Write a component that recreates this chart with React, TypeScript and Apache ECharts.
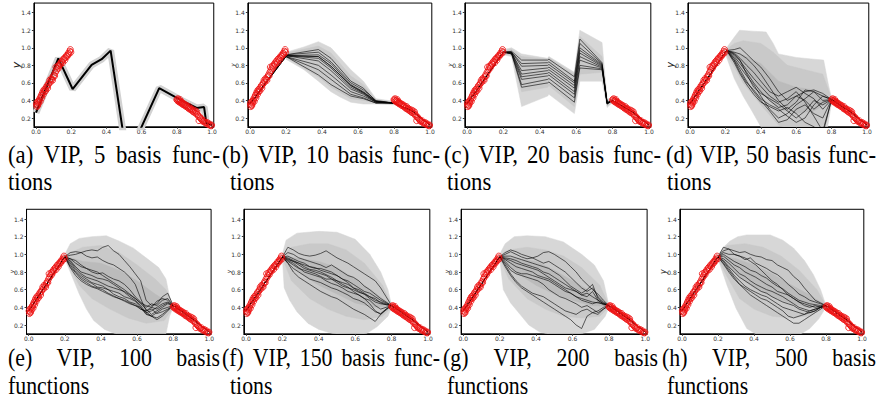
import React, { useEffect, useRef } from 'react';
import * as echarts from 'echarts';

type P = [number, number];

const X_TICKS = [0, 0.2, 0.4, 0.6, 0.8, 1.0];
const Y_TICKS = [0.2, 0.4, 0.6, 0.8, 1.0, 1.2, 1.4];

// training observations (shared by all panels)
const OBS_LEFT: P[] = [[0.002,0.36],[0.004,0.33],[0.006,0.38],[0.008,0.35],[0.010,0.34],[0.012,0.39],[0.015,0.37],[0.018,0.40],[0.021,0.42],[0.024,0.39],[0.027,0.44],[0.030,0.46],[0.033,0.43],[0.036,0.48],[0.039,0.50],[0.042,0.47],[0.045,0.52],[0.048,0.50],[0.051,0.53],[0.055,0.51],[0.059,0.55],[0.063,0.57],[0.066,0.54],[0.070,0.58],[0.074,0.60],[0.078,0.63],[0.082,0.61],[0.086,0.65],[0.090,0.64],[0.094,0.63],[0.098,0.67],[0.102,0.69],[0.106,0.68],[0.110,0.72],[0.113,0.78],[0.116,0.74],[0.120,0.76],[0.124,0.79],[0.128,0.77],[0.132,0.80],[0.136,0.82],[0.140,0.81],[0.144,0.84],[0.148,0.85],[0.152,0.83],[0.156,0.87],[0.160,0.88],[0.164,0.86],[0.168,0.89],[0.172,0.91],[0.176,0.90],[0.180,0.92],[0.184,0.94],[0.188,0.93],[0.192,0.96],[0.195,0.98],[0.198,0.95]];
const OBS_RIGHT: P[] = [[0.800,0.41],[0.803,0.40],[0.806,0.42],[0.809,0.39],[0.812,0.40],[0.815,0.38],[0.818,0.41],[0.821,0.39],[0.824,0.37],[0.827,0.38],[0.830,0.36],[0.834,0.37],[0.838,0.35],[0.842,0.36],[0.846,0.34],[0.850,0.35],[0.854,0.33],[0.858,0.34],[0.862,0.32],[0.866,0.31],[0.870,0.33],[0.874,0.30],[0.878,0.31],[0.882,0.29],[0.886,0.30],[0.890,0.28],[0.894,0.27],[0.898,0.29],[0.902,0.26],[0.906,0.28],[0.910,0.25],[0.914,0.27],[0.918,0.24],[0.922,0.22],[0.926,0.17],[0.930,0.21],[0.934,0.20],[0.938,0.19],[0.942,0.18],[0.946,0.17],[0.950,0.16],[0.955,0.17],[0.960,0.15],[0.965,0.14],[0.970,0.15],[0.975,0.13],[0.980,0.14],[0.985,0.12],[0.990,0.12],[0.995,0.11],[0.998,0.12]];

const SAMPLE_HEAD: P[] = [[0, 0.36]];
const SAMPLE_TAIL: P[] = [[0.9, 0.28], [1.0, 0.12]];

// (a) 5 basis functions
const A_LINE: P[] = [[0,0.26],[0.127,0.88],[0.208,0.53],[0.316,0.806],[0.373,0.87],[0.424,0.968],[0.505,-0.1],[0.55,-0.12],[0.7,0.54],[0.818,0.41],[0.913,0.314],[0.955,0.325],[0.968,0.14],[1.0,0.12]];

// (b) 10 basis functions
const B_X = [0.2, 0.38, 0.45, 0.56, 0.63, 0.7, 0.8];
const B_LINES = [
  [0.92,0.98,0.88,0.62,0.54,0.39,0.37],
  [0.92,0.95,0.84,0.60,0.52,0.40,0.37],
  [0.91,0.92,0.82,0.58,0.50,0.39,0.37],
  [0.91,0.90,0.79,0.57,0.49,0.39,0.37],
  [0.91,0.90,0.79,0.57,0.49,0.39,0.37],
  [0.91,0.88,0.77,0.55,0.48,0.38,0.37],
  [0.91,0.85,0.74,0.53,0.47,0.38,0.37],
  [0.90,0.80,0.69,0.50,0.45,0.38,0.37],
  [0.90,0.75,0.64,0.47,0.43,0.37,0.37],
  [0.90,0.69,0.58,0.45,0.42,0.37,0.37],
];
const B_OUTER_UP: P[] = [[0.2,0.95],[0.3,1.01],[0.38,1.07],[0.45,1.0],[0.56,0.75],[0.63,0.62],[0.7,0.42],[0.8,0.39]];
const B_OUTER_LO: P[] = [[0.2,0.87],[0.3,0.75],[0.38,0.62],[0.45,0.5],[0.5,0.44],[0.56,0.38],[0.63,0.36],[0.7,0.36],[0.8,0.35]];
const B_INNER_UP: P[] = [[0.2,0.94],[0.38,1.02],[0.45,0.94],[0.56,0.68],[0.63,0.58],[0.7,0.41],[0.8,0.38]];
const B_INNER_LO: P[] = [[0.2,0.89],[0.38,0.67],[0.45,0.55],[0.56,0.42],[0.63,0.4],[0.7,0.37],[0.8,0.36]];

// (c) 20 basis functions
const C_X = [0.2, 0.245, 0.3, 0.443, 0.45, 0.59, 0.62, 0.742, 0.77, 0.8];
const C_LINES = [
  [0.95,0.96,0.86,0.86,0.87,0.67,1.10,0.83,0.38,0.40],
  [0.95,0.95,0.82,0.83,0.84,0.62,1.05,0.82,0.37,0.40],
  [0.95,0.95,0.79,0.80,0.81,0.60,1.00,0.81,0.37,0.40],
  [0.95,0.94,0.74,0.77,0.78,0.57,0.97,0.80,0.36,0.40],
  [0.95,0.95,0.70,0.74,0.75,0.54,0.94,0.79,0.37,0.40],
  [0.95,0.94,0.67,0.71,0.72,0.50,0.90,0.78,0.36,0.40],
  [0.95,0.93,0.64,0.68,0.69,0.47,0.86,0.77,0.37,0.40],
  [0.95,0.94,0.58,0.64,0.65,0.43,0.80,0.76,0.36,0.40],
  [0.95,0.93,0.55,0.60,0.61,0.38,0.77,0.75,0.37,0.40],
];
const C_OUTER_UP: P[] = [[0.2,0.98],[0.245,1.0],[0.3,0.93],[0.443,0.88],[0.45,0.9],[0.59,0.72],[0.62,1.2],[0.742,1.06],[0.77,0.42],[0.8,0.42]];
const C_OUTER_LO: P[] = [[0.2,0.92],[0.245,0.9],[0.3,0.33],[0.443,0.45],[0.45,0.47],[0.59,0.25],[0.62,0.62],[0.742,0.62],[0.77,0.32],[0.8,0.38]];
const C_INNER_UP: P[] = [[0.2,0.97],[0.245,0.98],[0.3,0.9],[0.443,0.87],[0.45,0.89],[0.59,0.7],[0.62,1.13],[0.742,0.9],[0.77,0.4],[0.8,0.41]];
const C_INNER_LO: P[] = [[0.2,0.93],[0.245,0.92],[0.3,0.5],[0.443,0.55],[0.45,0.57],[0.59,0.33],[0.62,0.7],[0.742,0.72],[0.77,0.34],[0.8,0.39]];

// (d) 50 basis functions
const D_X = [0.207,0.25,0.283,0.32,0.36,0.4,0.45,0.5,0.55,0.6,0.65,0.7,0.75,0.8];
const D_LINES = [
  [0.97,0.98,1.00,0.93,0.85,0.78,0.65,0.50,0.40,0.45,0.50,0.52,0.48,0.41],
  [0.97,0.95,0.93,0.88,0.80,0.70,0.55,0.40,0.30,0.38,0.52,0.50,0.45,0.41],
  [0.97,0.90,0.82,0.72,0.60,0.50,0.40,0.32,0.35,0.45,0.40,0.30,0.38,0.41],
  [0.97,0.88,0.78,0.68,0.58,0.45,0.30,0.20,0.25,0.35,0.42,0.50,0.40,0.41],
  [0.97,0.86,0.75,0.62,0.50,0.40,0.28,0.15,0.18,0.30,0.35,0.25,0.20,0.41],
  [0.97,0.92,0.85,0.75,0.65,0.56,0.45,0.38,0.42,0.50,0.38,0.22,0.05,0.41],
  [0.97,0.85,0.72,0.60,0.52,0.42,0.35,0.30,0.22,0.15,0.20,0.35,0.45,0.41],
  [0.97,0.94,0.88,0.80,0.72,0.62,0.50,0.45,0.50,0.55,0.48,0.42,0.30,0.41],
  [0.97,0.83,0.70,0.58,0.47,0.38,0.33,0.28,0.32,0.25,0.15,0.10,0.02,0.41],
  [0.97,0.93,0.86,0.70,0.55,0.48,0.42,0.36,0.28,0.20,0.28,0.40,0.35,0.41],
];
const D_OUTER_UP: P[] = [[0.2,0.98],[0.25,1.12],[0.28,1.2],[0.35,1.19],[0.43,1.18],[0.47,1.05],[0.5,0.93],[0.6,0.89],[0.7,0.87],[0.755,0.86],[0.78,0.6],[0.8,0.42]];
const D_OUTER_LO: P[] = [[0.2,0.93],[0.25,0.65],[0.3,0.45],[0.35,0.28],[0.4,0.1],[0.5,-0.2],[0.7,-0.2],[0.77,0.0],[0.8,0.38]];
const D_MID_UP: P[] = [[0.2,0.97],[0.25,1.05],[0.3,1.08],[0.4,1.05],[0.47,0.95],[0.55,0.8],[0.65,0.75],[0.75,0.7],[0.8,0.42]];
const D_MID_LO: P[] = [[0.2,0.94],[0.25,0.78],[0.3,0.6],[0.4,0.35],[0.5,0.12],[0.6,0.05],[0.7,0.05],[0.77,0.15],[0.8,0.39]];
const D_INNER_UP: P[] = [[0.2,0.96],[0.3,0.92],[0.4,0.82],[0.5,0.62],[0.6,0.55],[0.7,0.52],[0.8,0.41]];
const D_INNER_LO: P[] = [[0.2,0.95],[0.3,0.75],[0.4,0.5],[0.5,0.3],[0.6,0.25],[0.7,0.28],[0.8,0.40]];

// shared x grid for (e)-(h)
const W_X = [0.2,0.23,0.26,0.29,0.32,0.35,0.38,0.41,0.44,0.47,0.5,0.53,0.56,0.59,0.62,0.65,0.68,0.71,0.74,0.77,0.8];

// (e) 100 basis functions
const E_LINES = [
  [0.97,1.02,1.03,1.02,1.04,1.05,1.04,1.08,1.10,1.04,1.00,0.93,0.86,0.78,0.70,0.48,0.42,0.44,0.52,0.56,0.42],
  [0.97,0.99,1.00,1.02,0.98,0.96,0.97,0.93,0.90,0.88,0.84,0.80,0.74,0.66,0.50,0.36,0.40,0.47,0.50,0.48,0.42],
  [0.97,0.95,0.90,0.86,0.84,0.80,0.78,0.79,0.75,0.72,0.70,0.66,0.60,0.52,0.46,0.40,0.44,0.42,0.48,0.50,0.42],
  [0.97,0.93,0.86,0.80,0.78,0.76,0.73,0.72,0.70,0.66,0.62,0.57,0.52,0.48,0.42,0.34,0.36,0.40,0.44,0.46,0.42],
  [0.97,0.92,0.84,0.78,0.74,0.72,0.70,0.67,0.64,0.62,0.60,0.58,0.54,0.50,0.44,0.38,0.32,0.36,0.40,0.44,0.42],
  [0.97,0.90,0.82,0.76,0.72,0.68,0.66,0.64,0.60,0.58,0.56,0.52,0.50,0.47,0.40,0.33,0.30,0.34,0.38,0.40,0.42],
  [0.97,0.88,0.80,0.74,0.70,0.67,0.63,0.62,0.60,0.55,0.52,0.50,0.46,0.44,0.38,0.36,0.38,0.33,0.35,0.38,0.42],
  [0.97,0.86,0.79,0.72,0.68,0.64,0.62,0.60,0.56,0.53,0.50,0.47,0.44,0.42,0.40,0.32,0.30,0.28,0.32,0.37,0.42],
  [0.97,0.85,0.76,0.70,0.66,0.63,0.61,0.58,0.55,0.52,0.50,0.48,0.45,0.42,0.38,0.35,0.30,0.26,0.30,0.36,0.42],
  [0.97,0.95,0.93,0.88,0.84,0.82,0.80,0.76,0.72,0.68,0.64,0.60,0.55,0.50,0.45,0.42,0.40,0.38,0.42,0.45,0.42],
];
const E_OUTER_UP: P[] = [[0.2,1.0],[0.23,1.12],[0.28,1.18],[0.35,1.2],[0.43,1.21],[0.5,1.15],[0.58,1.07],[0.65,0.96],[0.72,0.85],[0.76,0.72],[0.78,0.52],[0.8,0.42]];
const E_OUTER_LO: P[] = [[0.2,0.95],[0.25,0.7],[0.28,0.55],[0.32,0.38],[0.36,0.25],[0.42,0.15],[0.48,0.1],[0.55,0.05],[0.7,0.05],[0.76,0.1],[0.78,0.3],[0.8,0.4]];
const E_MID_UP: P[] = [[0.2,0.99],[0.3,1.08],[0.4,1.1],[0.5,1.02],[0.6,0.88],[0.7,0.72],[0.76,0.6],[0.8,0.42]];
const E_MID_LO: P[] = [[0.2,0.96],[0.28,0.65],[0.35,0.5],[0.45,0.38],[0.55,0.28],[0.65,0.22],[0.75,0.25],[0.8,0.4]];
const E_INNER_UP: P[] = [[0.2,0.98],[0.3,0.92],[0.4,0.9],[0.5,0.82],[0.6,0.7],[0.7,0.55],[0.8,0.42]];
const E_INNER_LO: P[] = [[0.2,0.97],[0.3,0.75],[0.4,0.65],[0.5,0.55],[0.6,0.42],[0.7,0.36],[0.8,0.41]];

// (f) 150 basis functions
const F_LINES = [
  [0.97,1.08,1.05,1.01,0.99,0.98,0.99,1.01,1.04,1.00,0.96,0.93,0.90,0.86,0.82,0.78,0.74,0.70,0.62,0.52,0.42],
  [0.97,1.02,1.00,0.96,0.94,0.92,0.90,0.88,0.85,0.88,0.84,0.80,0.76,0.74,0.70,0.64,0.60,0.55,0.50,0.46,0.42],
  [0.97,0.98,0.95,0.92,0.90,0.86,0.85,0.82,0.80,0.78,0.76,0.72,0.70,0.66,0.62,0.58,0.56,0.52,0.48,0.45,0.42],
  [0.97,0.96,0.93,0.90,0.86,0.83,0.82,0.80,0.77,0.74,0.70,0.68,0.66,0.62,0.60,0.56,0.52,0.48,0.46,0.44,0.42],
  [0.97,0.95,0.92,0.88,0.84,0.82,0.80,0.78,0.76,0.72,0.68,0.64,0.62,0.60,0.57,0.55,0.52,0.50,0.45,0.43,0.42],
  [0.97,0.93,0.90,0.85,0.80,0.78,0.76,0.74,0.70,0.67,0.65,0.62,0.58,0.56,0.54,0.50,0.48,0.42,0.38,0.40,0.42],
  [0.97,0.92,0.88,0.84,0.82,0.80,0.78,0.75,0.72,0.72,0.70,0.66,0.63,0.58,0.54,0.50,0.44,0.36,0.32,0.38,0.42],
  [0.97,0.90,0.84,0.80,0.76,0.72,0.70,0.68,0.65,0.62,0.60,0.57,0.54,0.50,0.48,0.45,0.40,0.35,0.33,0.38,0.42],
  [0.97,0.90,0.80,0.74,0.70,0.66,0.62,0.58,0.55,0.52,0.50,0.46,0.42,0.38,0.35,0.32,0.28,0.24,0.32,0.37,0.42],
  [0.97,0.94,0.92,0.90,0.88,0.86,0.84,0.84,0.82,0.80,0.76,0.72,0.68,0.62,0.58,0.55,0.50,0.46,0.44,0.43,0.42],
];
const F_OUTER_UP: P[] = [[0.2,1.0],[0.22,1.16],[0.28,1.24],[0.4,1.26],[0.5,1.25],[0.6,1.17],[0.68,1.0],[0.74,0.8],[0.78,0.6],[0.8,0.42]];
const F_OUTER_LO: P[] = [[0.2,0.95],[0.21,0.62],[0.24,0.48],[0.28,0.35],[0.34,0.22],[0.4,0.15],[0.48,0.1],[0.58,0.09],[0.66,0.1],[0.72,0.18],[0.78,0.3],[0.8,0.4]];
const F_MID_UP: P[] = [[0.2,0.99],[0.25,1.08],[0.35,1.12],[0.45,1.12],[0.55,1.05],[0.65,0.9],[0.75,0.65],[0.8,0.42]];
const F_MID_LO: P[] = [[0.2,0.96],[0.25,0.7],[0.35,0.5],[0.45,0.38],[0.55,0.3],[0.65,0.26],[0.75,0.3],[0.8,0.4]];
const F_INNER_UP: P[] = [[0.2,0.98],[0.3,0.95],[0.4,0.92],[0.5,0.85],[0.6,0.72],[0.7,0.58],[0.8,0.42]];
const F_INNER_LO: P[] = [[0.2,0.97],[0.3,0.78],[0.4,0.65],[0.5,0.55],[0.6,0.45],[0.7,0.4],[0.8,0.41]];

// (g) 200 basis functions
const G_LINES = [
  [0.97,1.02,1.05,1.03,1.00,0.98,0.96,0.98,1.02,1.03,1.00,0.96,0.92,0.86,0.80,0.72,0.66,0.60,0.55,0.48,0.42],
  [0.97,1.00,1.03,1.00,0.97,0.95,0.96,0.93,0.90,0.92,0.88,0.84,0.80,0.74,0.68,0.62,0.58,0.62,0.52,0.46,0.42],
  [0.97,0.98,0.98,0.96,0.94,0.92,0.90,0.88,0.86,0.84,0.80,0.76,0.70,0.64,0.60,0.56,0.60,0.66,0.50,0.45,0.42],
  [0.97,0.96,0.95,0.93,0.90,0.88,0.86,0.84,0.80,0.78,0.74,0.70,0.66,0.62,0.58,0.54,0.56,0.52,0.48,0.44,0.42],
  [0.97,0.95,0.93,0.90,0.88,0.86,0.84,0.82,0.78,0.74,0.70,0.66,0.62,0.60,0.58,0.54,0.52,0.58,0.48,0.44,0.42],
  [0.97,0.92,0.85,0.80,0.78,0.78,0.76,0.74,0.72,0.70,0.66,0.62,0.58,0.56,0.52,0.48,0.46,0.44,0.46,0.43,0.42],
  [0.97,0.90,0.82,0.78,0.76,0.74,0.72,0.70,0.66,0.60,0.56,0.52,0.50,0.47,0.44,0.40,0.42,0.38,0.34,0.38,0.42],
  [0.97,0.88,0.78,0.70,0.64,0.60,0.56,0.54,0.52,0.48,0.44,0.40,0.36,0.34,0.32,0.36,0.38,0.34,0.32,0.38,0.42],
  [0.97,0.86,0.76,0.68,0.62,0.58,0.54,0.50,0.46,0.42,0.38,0.34,0.30,0.26,0.20,0.16,0.30,0.34,0.36,0.40,0.42],
  [0.97,0.94,0.90,0.86,0.84,0.82,0.80,0.76,0.74,0.72,0.68,0.64,0.60,0.56,0.52,0.50,0.48,0.46,0.45,0.44,0.42],
];
const G_OUTER_UP: P[] = [[0.2,1.0],[0.23,1.12],[0.28,1.2],[0.35,1.21],[0.45,1.2],[0.55,1.14],[0.65,1.0],[0.72,0.88],[0.77,0.7],[0.8,0.42]];
const G_OUTER_LO: P[] = [[0.2,0.95],[0.22,0.6],[0.26,0.45],[0.3,0.35],[0.36,0.2],[0.42,0.12],[0.5,0.08],[0.65,0.1],[0.72,0.15],[0.78,0.3],[0.8,0.4]];
const G_MID_UP: P[] = [[0.2,0.99],[0.25,1.05],[0.35,1.08],[0.45,1.05],[0.55,0.98],[0.65,0.85],[0.75,0.65],[0.8,0.42]];
const G_MID_LO: P[] = [[0.2,0.96],[0.25,0.72],[0.35,0.5],[0.45,0.38],[0.55,0.3],[0.65,0.28],[0.75,0.3],[0.8,0.4]];
const G_INNER_UP: P[] = [[0.2,0.98],[0.3,0.95],[0.4,0.92],[0.5,0.82],[0.6,0.7],[0.7,0.58],[0.8,0.42]];
const G_INNER_LO: P[] = [[0.2,0.97],[0.3,0.78],[0.4,0.65],[0.5,0.55],[0.6,0.48],[0.7,0.42],[0.8,0.41]];

// (h) 500 basis functions
const H_LINES = [
  [0.97,1.08,1.06,1.04,1.02,1.03,1.00,0.98,0.97,0.94,0.93,0.88,0.85,0.82,0.75,0.70,0.62,0.55,0.48,0.45,0.42],
  [0.97,1.04,1.06,1.00,0.98,0.94,0.96,0.90,0.87,0.84,0.80,0.77,0.72,0.66,0.61,0.55,0.52,0.48,0.46,0.44,0.42],
  [0.97,1.00,0.96,0.92,0.89,0.86,0.82,0.80,0.76,0.73,0.68,0.64,0.61,0.56,0.52,0.48,0.46,0.44,0.43,0.42,0.42],
  [0.97,0.98,0.93,0.88,0.85,0.80,0.77,0.74,0.70,0.66,0.63,0.58,0.56,0.54,0.50,0.46,0.42,0.40,0.42,0.40,0.42],
  [0.97,0.95,0.90,0.84,0.78,0.75,0.70,0.66,0.63,0.60,0.58,0.55,0.52,0.48,0.44,0.40,0.38,0.36,0.38,0.40,0.42],
  [0.97,0.93,0.86,0.80,0.74,0.70,0.66,0.62,0.58,0.56,0.52,0.49,0.46,0.44,0.42,0.38,0.36,0.34,0.36,0.40,0.42],
  [0.97,0.92,0.84,0.76,0.70,0.64,0.60,0.57,0.54,0.52,0.48,0.44,0.40,0.38,0.36,0.34,0.32,0.34,0.36,0.40,0.42],
  [0.97,0.90,0.82,0.74,0.66,0.60,0.54,0.50,0.46,0.42,0.38,0.34,0.30,0.26,0.22,0.22,0.26,0.30,0.34,0.38,0.42],
  [0.97,0.89,0.80,0.72,0.66,0.62,0.58,0.54,0.50,0.48,0.44,0.40,0.36,0.30,0.28,0.30,0.32,0.36,0.38,0.40,0.42],
  [0.97,1.02,1.00,1.00,0.98,0.96,0.92,0.88,0.82,0.76,0.70,0.66,0.60,0.54,0.50,0.46,0.44,0.42,0.40,0.41,0.42],
];
const H_OUTER_UP: P[] = [[0.2,0.99],[0.23,1.08],[0.267,1.15],[0.31,1.2],[0.36,1.22],[0.49,1.22],[0.56,1.16],[0.62,1.07],[0.68,0.93],[0.73,0.77],[0.77,0.6],[0.8,0.42]];
const H_OUTER_LO: P[] = [[0.2,0.95],[0.25,0.65],[0.3,0.39],[0.36,0.16],[0.45,0.05],[0.62,0.05],[0.71,0.16],[0.76,0.27],[0.8,0.4]];
const H_MID_UP: P[] = [[0.2,0.99],[0.25,1.1],[0.35,1.12],[0.45,1.08],[0.55,0.98],[0.65,0.82],[0.75,0.6],[0.8,0.42]];
const H_MID_LO: P[] = [[0.2,0.95],[0.25,0.75],[0.32,0.5],[0.4,0.38],[0.5,0.3],[0.6,0.28],[0.7,0.3],[0.8,0.4]];
const H_INNER_UP: P[] = [[0.2,0.98],[0.3,0.95],[0.4,0.88],[0.5,0.78],[0.6,0.66],[0.7,0.55],[0.8,0.42]];
const H_INNER_LO: P[] = [[0.2,0.97],[0.3,0.78],[0.4,0.62],[0.5,0.52],[0.6,0.45],[0.7,0.4],[0.8,0.41]];

const CAPTION_LINE1 = ['(a) VIP, 5 basis func-', '(b) VIP, 10 basis func-', '(c) VIP, 20 basis func-', '(d) VIP, 50 basis func-', '(e) VIP, 100 basis', '(f) VIP, 150 basis func-', '(g) VIP, 200 basis', '(h) VIP, 500 basis'];
const CAPTION_LINE2 = ['tions', 'tions', 'tions', 'tions', 'functions', 'tions', 'functions', 'functions'];

// layout (pixels)
const PANEL_X0 = [36, 250, 467, 690, 28.7, 246, 463.3, 682];
const PANEL_X1 = [212, 430, 649, 867, 209.3, 428, 645.3, 862];
const ROW_Y14 = [12.7, 219];
const ROW_Y02 = [118, 325];
const X_MIN = -0.012, X_MAX = 1.01, Y_MIN = 0.1, Y_MAX = 1.51;
const Y_NAME_SIZE = [11, 6, 6, 10, 6, 6, 6, 8];
const CAP1_RANGE = [[8, 220], [222, 440], [444, 661], [666, 876], [8, 220], [222, 440], [443, 658], [662, 876]];
const CAP2_X = [8, 230, 447, 667, 8, 230, 447, 667];
const CAP_Y = [[155, 182], [357, 385]];
const CAP_SIZE = [25, 26];
const CAP_SCALE_X = [0.91, 0.84];

const zip = (xs: number[], ys: number[]): P[] => xs.map((x, i) => [x, ys[i]] as P);
const full = (pts: P[]): P[] => [...SAMPLE_HEAD, ...pts, ...SAMPLE_TAIL];

const OUTER = '#d7d7d7', MID = '#c9c9c9', INNER = '#bbbbbb';

const PANELS: { lines: P[][]; bands: [P[], P[], string][]; halo?: boolean }[] = [
  { lines: [A_LINE], bands: [], halo: true },
  { lines: B_LINES.map((y) => full(zip(B_X, y))), bands: [[B_OUTER_UP, B_OUTER_LO, OUTER], [B_INNER_UP, B_INNER_LO, MID]] },
  { lines: C_LINES.map((y) => full(zip(C_X, y))), bands: [[C_OUTER_UP, C_OUTER_LO, OUTER], [C_INNER_UP, C_INNER_LO, MID]] },
  { lines: D_LINES.map((y) => full(zip(D_X, y))), bands: [[D_OUTER_UP, D_OUTER_LO, OUTER], [D_MID_UP, D_MID_LO, MID], [D_INNER_UP, D_INNER_LO, INNER]] },
  { lines: E_LINES.map((y) => full(zip(W_X, y))), bands: [[E_OUTER_UP, E_OUTER_LO, OUTER], [E_MID_UP, E_MID_LO, MID], [E_INNER_UP, E_INNER_LO, INNER]] },
  { lines: F_LINES.map((y) => full(zip(W_X, y))), bands: [[F_OUTER_UP, F_OUTER_LO, OUTER], [F_MID_UP, F_MID_LO, MID], [F_INNER_UP, F_INNER_LO, INNER]] },
  { lines: G_LINES.map((y) => full(zip(W_X, y))), bands: [[G_OUTER_UP, G_OUTER_LO, OUTER], [G_MID_UP, G_MID_LO, MID], [G_INNER_UP, G_INNER_LO, INNER]] },
  { lines: H_LINES.map((y) => full(zip(W_X, y))), bands: [[H_OUTER_UP, H_OUTER_LO, OUTER], [H_MID_UP, H_MID_LO, MID], [H_INNER_UP, H_INNER_LO, INNER]] },
];

const CAP_FONT = '"Liberation Serif", "Times New Roman", serif';
const TICK_FONT = 'DejaVu Sans';
const TICK_SIZE = 6;

function buildCaptions() {
  const canvas = document.createElement('canvas');
  const ctx = canvas.getContext('2d')!;
  const els: any[] = [];
  const textEl = (text: string, x: number, y: number, size: number, sx: number) => ({
    type: 'text', x, y, scaleX: sx, scaleY: 1, silent: true,
    style: { text, fill: '#000', fontSize: size, fontFamily: CAP_FONT, textAlign: 'left', textVerticalAlign: 'middle' },
  });
  for (let i = 0; i < 8; i++) {
    const row = i < 4 ? 0 : 1;
    const size = CAP_SIZE[row], sx = CAP_SCALE_X[row];
    ctx.font = `${size}px ${CAP_FONT}`;
    const words = CAPTION_LINE1[i].split(' ');
    const widths = words.map((w) => ctx.measureText(w).width * sx);
    const total = widths.reduce((a, b) => a + b, 0);
    const [x0, x1] = CAP1_RANGE[i];
    const gap = (x1 - x0 - total) / (words.length - 1);
    let x = x0;
    words.forEach((w, k) => {
      els.push(textEl(w, x, CAP_Y[row][0], size, sx));
      x += widths[k] + gap;
    });
    els.push(textEl(CAPTION_LINE2[i], CAP2_X[i], CAP_Y[row][1], size, sx));
  }
  return els;
}

export default function App() {
  const ref = useRef<HTMLDivElement>(null);
  useEffect(() => {
    const chart = echarts.init(ref.current!, undefined, { renderer: 'svg' });
    const grid: any[] = [], xAxis: any[] = [], yAxis: any[] = [], series: any[] = [];
    for (let i = 0; i < 8; i++) {
      const row = i < 4 ? 0 : 1;
      const x0 = PANEL_X0[i], x1 = PANEL_X1[i];
      const sx = x1 - x0;
      const sy = (ROW_Y02[row] - ROW_Y14[row]) / 1.2;
      grid.push({
        left: x0 + X_MIN * sx, width: (X_MAX - X_MIN) * sx,
        top: ROW_Y14[row] - (Y_MAX - 1.4) * sy, height: (Y_MAX - Y_MIN) * sy,
        show: true, borderColor: '#000', borderWidth: 1, containLabel: false,
      });
      xAxis.push({
        type: 'value', gridIndex: i, min: X_MIN, max: X_MAX,
        axisLine: { show: true, onZero: false, lineStyle: { color: '#000', width: 1 } },
        axisTick: { show: true, length: 2, customValues: X_TICKS, lineStyle: { color: '#333' } },
        axisLabel: { show: true, customValues: X_TICKS, fontSize: TICK_SIZE, color: '#333', fontFamily: TICK_FONT, margin: 2, formatter: (v: number) => v.toFixed(1), showMinLabel: true, showMaxLabel: true },
        splitLine: { show: false },
      });
      yAxis.push({
        type: 'value', gridIndex: i, min: Y_MIN, max: Y_MAX,
        name: 'y', nameLocation: 'middle', nameGap: 12, nameRotate: 90, nameMoveOverlap: false,
        nameTextStyle: { fontSize: Y_NAME_SIZE[i], fontStyle: 'italic', fontFamily: 'DejaVu Sans', color: '#222' },
        axisLine: { show: true, onZero: false, lineStyle: { color: '#000', width: 1 } },
        axisTick: { show: true, length: 2, customValues: Y_TICKS, lineStyle: { color: '#333' } },
        axisLabel: { show: true, customValues: Y_TICKS, fontSize: TICK_SIZE, color: '#333', fontFamily: TICK_FONT, margin: 3, formatter: (v: number) => v.toFixed(1) },
        splitLine: { show: false },
      });
      const p = PANELS[i];
      p.bands.forEach(([up, lo, color]) => {
        series.push({
          type: 'custom', xAxisIndex: i, yAxisIndex: i, clip: true, silent: true, z: 1,
          data: [[0.5, 0.5]],
          renderItem: (_params: any, api: any) => {
            const pts = [...up, ...lo.slice().reverse()].map((q) => api.coord(q));
            return { type: 'polygon', shape: { points: pts }, style: { fill: color, stroke: color, lineWidth: 0.5 } };
          },
        });
      });
      p.lines.forEach((ln) => {
        if (p.halo) {
          series.push({ type: 'line', xAxisIndex: i, yAxisIndex: i, data: ln, symbol: 'none', silent: true, z: 2, clip: true, lineStyle: { color: '#d2d2d2', width: 7 } });
          series.push({ type: 'line', xAxisIndex: i, yAxisIndex: i, data: ln, symbol: 'none', silent: true, z: 3, clip: true, lineStyle: { color: '#000', width: 2 } });
        } else {
          series.push({ type: 'line', xAxisIndex: i, yAxisIndex: i, data: ln, symbol: 'none', silent: true, z: 3, clip: true, lineStyle: { color: 'rgba(0,0,0,0.6)', width: 1 } });
        }
      });
      series.push({
        type: 'scatter', xAxisIndex: i, yAxisIndex: i, data: [...OBS_LEFT, ...OBS_RIGHT],
        symbol: 'circle', symbolSize: 6, silent: true, z: 5, clip: true,
        itemStyle: { color: 'rgba(0,0,0,0)', borderColor: '#ee1111', borderWidth: 1 },
      });
    }
    chart.setOption({
      animation: false,
      backgroundColor: '#fff',
      grid, xAxis, yAxis, series,
      graphic: { elements: buildCaptions() },
    });
    return () => chart.dispose();
  }, []);
  return <div ref={ref} style={{ position: 'absolute', left: 0, top: 0, width: 881, height: 410 }} />;
}
